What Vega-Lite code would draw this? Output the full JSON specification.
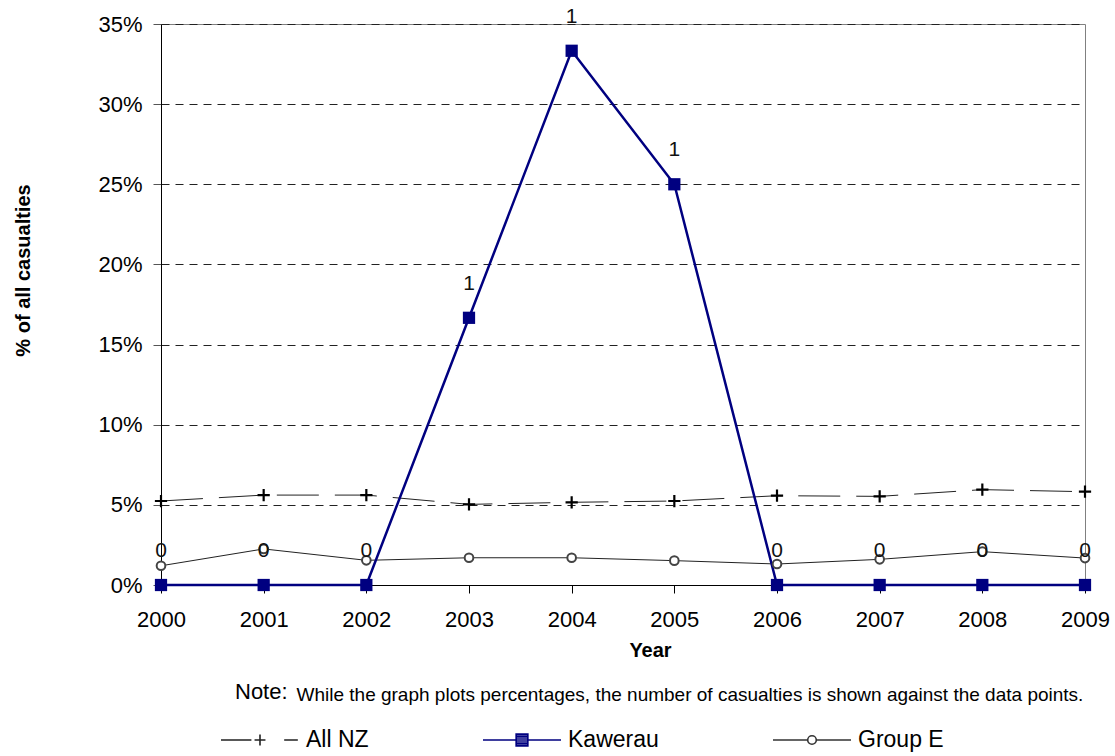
{
  "$schema": "https://vega.github.io/schema/vega-lite/v6.json",
  "autosize": "none",
  "width": 924,
  "height": 561,
  "padding": {"left": 161, "top": 24, "right": 30, "bottom": 171},
  "background": "white",
  "config": {
    "font": "Liberation Sans",
    "view": {"stroke": "#808080", "strokeWidth": 1},
    "axis": {"labelFont": "Liberation Sans", "titleFont": "Liberation Sans", "labelColor": "#000", "titleColor": "#000"}
  },
  "title": {
    "text": "Note:",
    "orient": "bottom",
    "anchor": "start",
    "frame": "group",
    "dx": 74,
    "dy": -88,
    "offset": 18,
    "font": "Liberation Sans",
    "fontSize": 22,
    "fontWeight": "normal",
    "color": "#000"
  },
  "data": {
    "values": [
      {"year": 2000, "series": "All NZ", "pct": 0.0524, "count": null},
      {"year": 2001, "series": "All NZ", "pct": 0.0561, "count": null},
      {"year": 2002, "series": "All NZ", "pct": 0.0561, "count": null},
      {"year": 2003, "series": "All NZ", "pct": 0.0503, "count": null},
      {"year": 2004, "series": "All NZ", "pct": 0.0516, "count": null},
      {"year": 2005, "series": "All NZ", "pct": 0.0524, "count": null},
      {"year": 2006, "series": "All NZ", "pct": 0.0557, "count": null},
      {"year": 2007, "series": "All NZ", "pct": 0.0553, "count": null},
      {"year": 2008, "series": "All NZ", "pct": 0.0595, "count": null},
      {"year": 2009, "series": "All NZ", "pct": 0.0582, "count": null},
      {"year": 2000, "series": "Kawerau", "pct": 0, "count": 0},
      {"year": 2001, "series": "Kawerau", "pct": 0, "count": 0},
      {"year": 2002, "series": "Kawerau", "pct": 0, "count": 0},
      {"year": 2003, "series": "Kawerau", "pct": 0.1667, "count": 1},
      {"year": 2004, "series": "Kawerau", "pct": 0.3333, "count": 1},
      {"year": 2005, "series": "Kawerau", "pct": 0.25, "count": 1},
      {"year": 2006, "series": "Kawerau", "pct": 0, "count": 0},
      {"year": 2007, "series": "Kawerau", "pct": 0, "count": 0},
      {"year": 2008, "series": "Kawerau", "pct": 0, "count": 0},
      {"year": 2009, "series": "Kawerau", "pct": 0, "count": 0},
      {"year": 2000, "series": "Group E", "pct": 0.012, "count": null},
      {"year": 2001, "series": "Group E", "pct": 0.0225, "count": null},
      {"year": 2002, "series": "Group E", "pct": 0.0154, "count": null},
      {"year": 2003, "series": "Group E", "pct": 0.017, "count": null},
      {"year": 2004, "series": "Group E", "pct": 0.017, "count": null},
      {"year": 2005, "series": "Group E", "pct": 0.0152, "count": null},
      {"year": 2006, "series": "Group E", "pct": 0.0131, "count": null},
      {"year": 2007, "series": "Group E", "pct": 0.016, "count": null},
      {"year": 2008, "series": "Group E", "pct": 0.0208, "count": null},
      {"year": 2009, "series": "Group E", "pct": 0.0168, "count": null}
    ]
  },
  "encoding": {
    "x": {
      "field": "year", "type": "quantitative",
      "scale": {"domain": [2000, 2009], "nice": false, "zero": false},
      "axis": {
        "values": [2000, 2001, 2002, 2003, 2004, 2005, 2006, 2007, 2008, 2009],
        "format": "d", "grid": false, "labelFlush": false, "labelOverlap": false, "labelBound": false,
        "labelFontSize": 22, "labelPadding": 16, "tickSize": 8, "tickColor": "#000", "domainColor": "#000",
        "title": "Year", "titleFontSize": 20, "titleFontWeight": "bold",
        "titleX": 489, "titleY": 65, "titleAlign": "center", "titleBaseline": "middle", "titleAnchor": null
      }
    },
    "y": {
      "field": "pct", "type": "quantitative",
      "scale": {"domain": [0, 0.35], "nice": false, "zero": true},
      "axis": null
    }
  },
  "resolve": {"axis": {"y": "independent"}},
  "layer": [
    {
      "transform": [{"filter": "datum.series === 'Group E'"}],
      "mark": {"type": "line", "color": "#222", "strokeWidth": 1},
      "encoding": {
        "y": {
          "field": "pct", "type": "quantitative",
          "scale": {"domain": [0, 0.35], "nice": false, "zero": true},
          "axis": {
            "values": [0, 0.05, 0.1, 0.15, 0.2, 0.25, 0.3, 0.35],
            "format": ".0%", "grid": true, "gridColor": "#222", "gridDash": [8, 6], "gridWidth": 1,
            "labelFontSize": 22, "labelPadding": 11, "tickSize": 8, "tickColor": "#555", "domainColor": "#000",
            "title": "% of all casualties", "titleFontSize": 20, "titleFontWeight": "bold", "titlePadding": 0,
            "titleX": -128, "titleY": 246, "titleAnchor": null, "titleAlign": "center", "titleBaseline": "bottom"
          }
        }
      }
    },
    {
      "transform": [{"filter": "datum.series === 'All NZ'"}],
      "mark": {"type": "line", "color": "#222", "strokeWidth": 1, "strokeDash": [42, 16]},
      "encoding": {
        "y": {
          "field": "pct", "type": "quantitative",
          "scale": {"domain": [0, 0.35], "nice": false, "zero": true},
          "axis": {
            "orient": "right", "labels": false, "ticks": false, "domain": false, "grid": false,
            "title": "While the graph plots percentages, the number of casualties is shown against the data points.",
            "titleAngle": 0, "titleFontSize": 19, "titleFontWeight": "normal", "titleFont": "Liberation Sans",
            "titleX": -789, "titleY": 676, "titleAlign": "left", "titleBaseline": "alphabetic", "titleAnchor": null, "titlePadding": 0
          }
        }
      }
    },
    {
      "transform": [{"filter": "datum.series === 'Kawerau'"}],
      "mark": {"type": "line", "color": "#000080", "strokeWidth": 2.5}
    },
    {
      "transform": [{"filter": "datum.series === 'Group E'"}],
      "mark": {"type": "point", "shape": "circle", "size": 75, "filled": false, "stroke": "#444", "strokeWidth": 2, "fill": "white", "opacity": 1}
    },
    {
      "transform": [{"filter": "datum.series === 'All NZ'"}],
      "mark": {"type": "point", "shape": "M-1,0H1M0,-1V1", "size": 150, "filled": false, "stroke": "#000", "strokeWidth": 2.2, "opacity": 1}
    },
    {
      "transform": [{"filter": "datum.series === 'Kawerau'"}],
      "mark": {"type": "point", "shape": "square", "size": 150, "filled": true, "color": "#000080", "opacity": 1}
    },
    {
      "transform": [{"filter": "datum.series === 'Kawerau'"}],
      "mark": {"type": "text", "dy": -34, "fontSize": 21, "font": "Liberation Sans", "color": "#111", "baseline": "middle", "align": "center"},
      "encoding": {"text": {"field": "count", "type": "quantitative", "format": "d"}}
    },
    {
      "transform": [{"filter": "datum.year === 2000"}],
      "mark": {"type": "point", "opacity": 0, "filled": false},
      "encoding": {
        "shape": {
          "field": "series", "type": "nominal",
          "scale": {"domain": ["All NZ", "Kawerau", "Group E"], "range": [
            "M-1,0H-0.22M-0.14,0H0.14M0,-0.14V0.14M0.62,0H0.97",
            "M-1,0H1M-0.15,-0.15H0.15V0.15H-0.15ZM-0.15,-0.1H0.15M-0.15,-0.05H0.15M-0.15,0.05H0.15M-0.15,0.1H0.15",
            "M-1,0H-0.11M0.11,0H1M0.11,0A0.11,0.11 0 1,1 -0.11,0A0.11,0.11 0 1,1 0.11,0Z"
          ]},
          "legend": {
            "title": null, "orient": "none", "direction": "horizontal", "legendX": 59, "legendY": 676,
            "symbolSize": 6084, "symbolStrokeWidth": 1.6, "labelFontSize": 23, "labelFont": "Liberation Sans",
            "labelColor": "#000", "labelOffset": 6, "columnPadding": 110, "padding": 0, "labelLimit": 300
          }
        },
        "stroke": {
          "field": "series", "type": "nominal",
          "scale": {"domain": ["All NZ", "Kawerau", "Group E"], "range": ["#222", "#000080", "#333"]},
          "legend": {
            "title": null, "orient": "none", "direction": "horizontal", "legendX": 59, "legendY": 676,
            "symbolSize": 6084, "symbolStrokeWidth": 1.6, "labelFontSize": 23, "labelFont": "Liberation Sans",
            "labelColor": "#000", "labelOffset": 6, "columnPadding": 110, "padding": 0, "labelLimit": 300
          }
        }
      }
    }
  ]
}
